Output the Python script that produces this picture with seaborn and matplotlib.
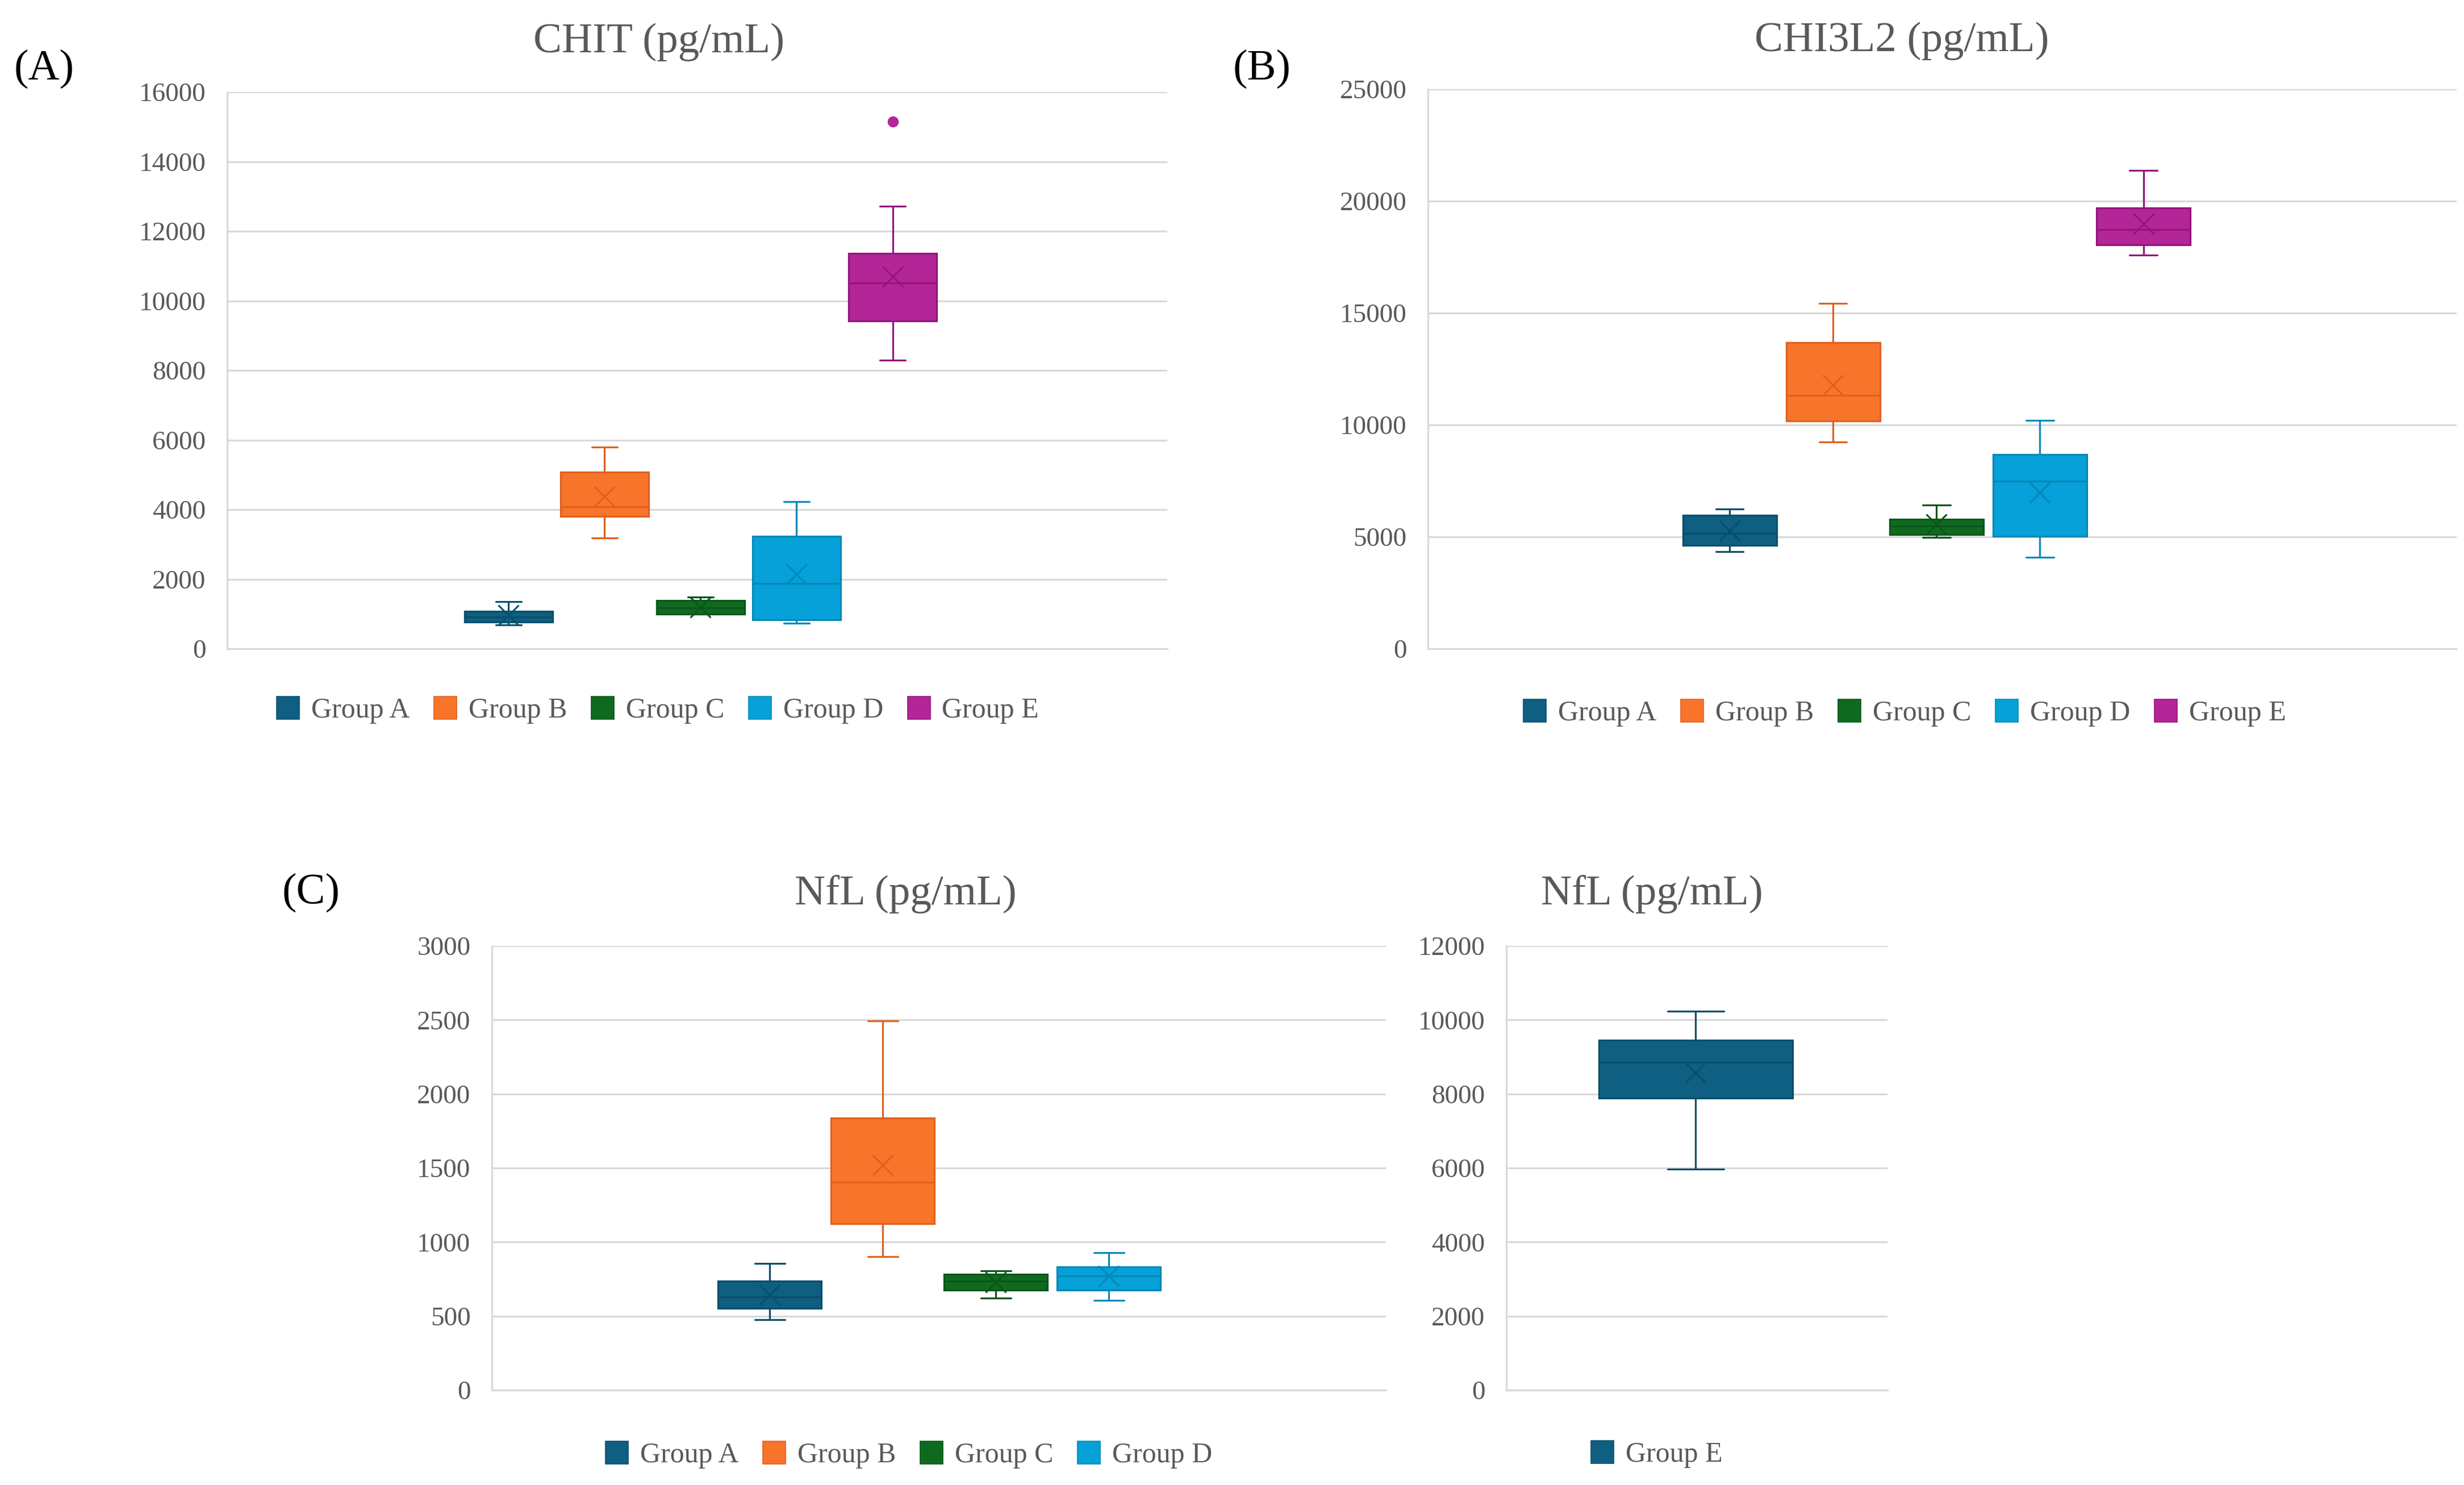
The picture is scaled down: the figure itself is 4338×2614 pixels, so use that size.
import numpy as np
import pandas as pd
import matplotlib
matplotlib.use("Agg")
import matplotlib.pyplot as plt
import seaborn as sns
from matplotlib.patches import Patch

sns.set_theme(style="white")
plt.rcParams["font.family"] = ["Liberation Serif", "DejaVu Serif"]

# ---------------- data ----------------
groups_5 = ["Group A", "Group B", "Group C", "Group D", "Group E"]
groups_4 = ["Group A", "Group B", "Group C", "Group D"]
groups_1 = ["Group E"]

# CHIT (pg/mL): whisker low, Q1, median, Q3, whisker high, mean
chit_low = [690, 3190, 990, 740, 8300]
chit_q1 = [770, 3800, 1000, 830, 9420]
chit_median = [920, 4080, 1180, 1880, 10520]
chit_q3 = [1070, 5070, 1390, 3240, 11360]
chit_high = [1360, 5790, 1480, 4230, 12720]
chit_mean = [960, 4380, 1200, 2140, 10700]
chit_outlier_group = ["Group E"]
chit_outlier_value = [15150]

# CHI3L2 (pg/mL)
chi3l2_low = [4340, 9230, 4980, 4090, 17590]
chi3l2_q1 = [4620, 10180, 5110, 5020, 18050]
chi3l2_median = [5140, 11330, 5470, 7490, 18730]
chi3l2_q3 = [5970, 13670, 5790, 8690, 19700]
chi3l2_high = [6250, 15430, 6420, 10200, 21380]
chi3l2_mean = [5290, 11770, 5560, 6990, 18980]

# NfL (pg/mL), groups A-D
nfl_low = [475, 903, 620, 607]
nfl_q1 = [553, 1123, 677, 677]
nfl_median = [628, 1405, 735, 770]
nfl_q3 = [735, 1837, 784, 832]
nfl_high = [855, 2493, 806, 930]
nfl_mean = [643, 1519, 728, 772]

# NfL (pg/mL), group E
nfl_e_low = [5970]
nfl_e_q1 = [7890]
nfl_e_median = [8860]
nfl_e_q3 = [9460]
nfl_e_high = [10240]
nfl_e_mean = [8580]

fill_colors = {"Group A": "#0E5F82", "Group B": "#F8742B", "Group C": "#0F6A1F",
               "Group D": "#05A1D8", "Group E": "#B42598"}
edge_colors = {"Group A": "#0A4E6C", "Group B": "#E0601E", "Group C": "#0A561A",
               "Group D": "#0388B8", "Group E": "#93157D"}

GRAY_TXT = "#595959"
GRID = "#D9D9D9"

W, H = 4338, 2614
fig = plt.figure(figsize=(W / 100, H / 100), dpi=100)


def rect(l, t, r, b):
    return [l / W, 1 - b / H, (r - l) / W, (b - t) / H]


def draw_panel(ax, groups, low, q1, med, q3, high, mean, fills, edges,
               width, xlim, ylim, ystep, capfrac=0.29):
    df = pd.DataFrame({
        "group": np.repeat(groups, 5),
        "value": np.column_stack([low, q1, med, q3, high]).ravel(),
    })
    for g in groups:
        sub = df[df["group"] == g]
        kws = dict(data=sub, x="group", y="value", order=groups,
                   color=fills[g], linecolor=edges[g], saturation=1,
                   width=width, whis=(0, 100), showfliers=False,
                   linewidth=2.3, ax=ax)
        try:
            sns.boxplot(capwidths=capfrac * width, **kws)
        except TypeError:
            sns.boxplot(**kws)
    mdf = pd.DataFrame({"group": groups, "mean": mean})
    sns.pointplot(data=mdf, x="group", y="mean", order=groups, hue="group",
                  hue_order=groups, palette=[edges[g] for g in groups],
                  markers="x", linestyle="none", errorbar=None,
                  markersize=26, markeredgewidth=2.2, legend=False, ax=ax)
    ax.set_xlim(*xlim)
    ax.set_ylim(*ylim)
    ax.set_yticks(np.arange(ylim[0], ylim[1] + 1, ystep))
    ax.set_xticks([])
    ax.set_xlabel("")
    ax.set_ylabel("")
    ax.yaxis.grid(True, color=GRID, linewidth=2.3)
    ax.xaxis.grid(False)
    ax.set_axisbelow(True)
    for s in ["top", "right"]:
        ax.spines[s].set_visible(False)
    for s in ["left", "bottom"]:
        ax.spines[s].set_color(GRID)
        ax.spines[s].set_linewidth(2.3)
    ax.tick_params(axis="y", length=0, pad=27, labelsize=34, labelcolor=GRAY_TXT)
    for lab in ax.get_yticklabels():
        lab.set_fontfamily(["Liberation Serif", "DejaVu Serif"])
    ax.set_facecolor("white")


def add_legend(groups, fills, edges, cx, cy):
    handles = [Patch(facecolor=fills[g], edgecolor=edges[g], linewidth=1.2, label=g)
               for g in groups]
    fig.legend(handles=handles, loc="center", bbox_to_anchor=(cx / W, 1 - cy / H),
               ncol=len(groups), frameon=False, fontsize=36, labelcolor=GRAY_TXT,
               handlelength=0.8, handleheight=0.85, handletextpad=0.42,
               columnspacing=0.85, borderpad=0, borderaxespad=0)


# Panel A
axA = fig.add_axes(rect(400, 162, 2055, 1142))
draw_panel(axA, groups_5, chit_low, chit_q1, chit_median, chit_q3, chit_high,
           chit_mean, fill_colors, edge_colors, 0.92, (-2.93, 6.86), (0, 16000), 2000)
odf = pd.DataFrame({"group": chit_outlier_group, "value": chit_outlier_value})
sns.pointplot(data=odf, x="group", y="value", order=groups_5, color=fill_colors["Group E"],
              markers="o", linestyle="none", errorbar=None, markersize=14,
              markeredgewidth=0, ax=axA)
axA.set_xlim(-2.93, 6.86)
axA.set_xlabel("")
axA.set_ylabel("")
axA.set_xticks([])

# Panel B
axB = fig.add_axes(rect(2514, 157, 4325, 1142))
draw_panel(axB, groups_5, chi3l2_low, chi3l2_q1, chi3l2_median, chi3l2_q3, chi3l2_high,
           chi3l2_mean, fill_colors, edge_colors, 0.91, (-2.92, 7.03), (0, 25000), 5000)

# Panel C
axC = fig.add_axes(rect(866, 1665, 2440, 2447))
draw_panel(axC, groups_4, nfl_low, nfl_q1, nfl_median, nfl_q3, nfl_high,
           nfl_mean, fill_colors, edge_colors, 0.915, (-2.457, 5.45), (0, 3000), 500)

# Panel D (Group E NfL, drawn in the first series colour)
fillE = {"Group E": fill_colors["Group A"]}
edgeE = {"Group E": edge_colors["Group A"]}
axD = fig.add_axes(rect(2652, 1665, 3323, 2447))
draw_panel(axD, groups_1, nfl_e_low, nfl_e_q1, nfl_e_median, nfl_e_q3, nfl_e_high,
           nfl_e_mean, fillE, edgeE, 0.9, (-0.879, 0.891), (0, 12000), 2000)

# Titles
for txt, x, y in [("CHIT (pg/mL)", 1160, 92), ("CHI3L2 (pg/mL)", 3348, 90),
                  ("NfL (pg/mL)", 1594, 1592), ("NfL (pg/mL)", 2908, 1592)]:
    fig.text(x / W, 1 - y / H, txt, ha="center", va="baseline", fontsize=54,
             color=GRAY_TXT)

# Panel labels
for txt, x, y in [("(A)", 78, 140), ("(B)", 2222, 140), ("(C)", 548, 1590)]:
    fig.text(x / W, 1 - y / H, txt, ha="center", va="baseline", fontsize=55,
             color="black")

# Legends
add_legend(groups_5, fill_colors, edge_colors, 1158, 1250)
add_legend(groups_5, fill_colors, edge_colors, 3353, 1255)
add_legend(groups_4, fill_colors, edge_colors, 1600, 2561)
add_legend(groups_1, fillE, edgeE, 2917, 2560)

fig.savefig("out.png", dpi=100, facecolor="white")
